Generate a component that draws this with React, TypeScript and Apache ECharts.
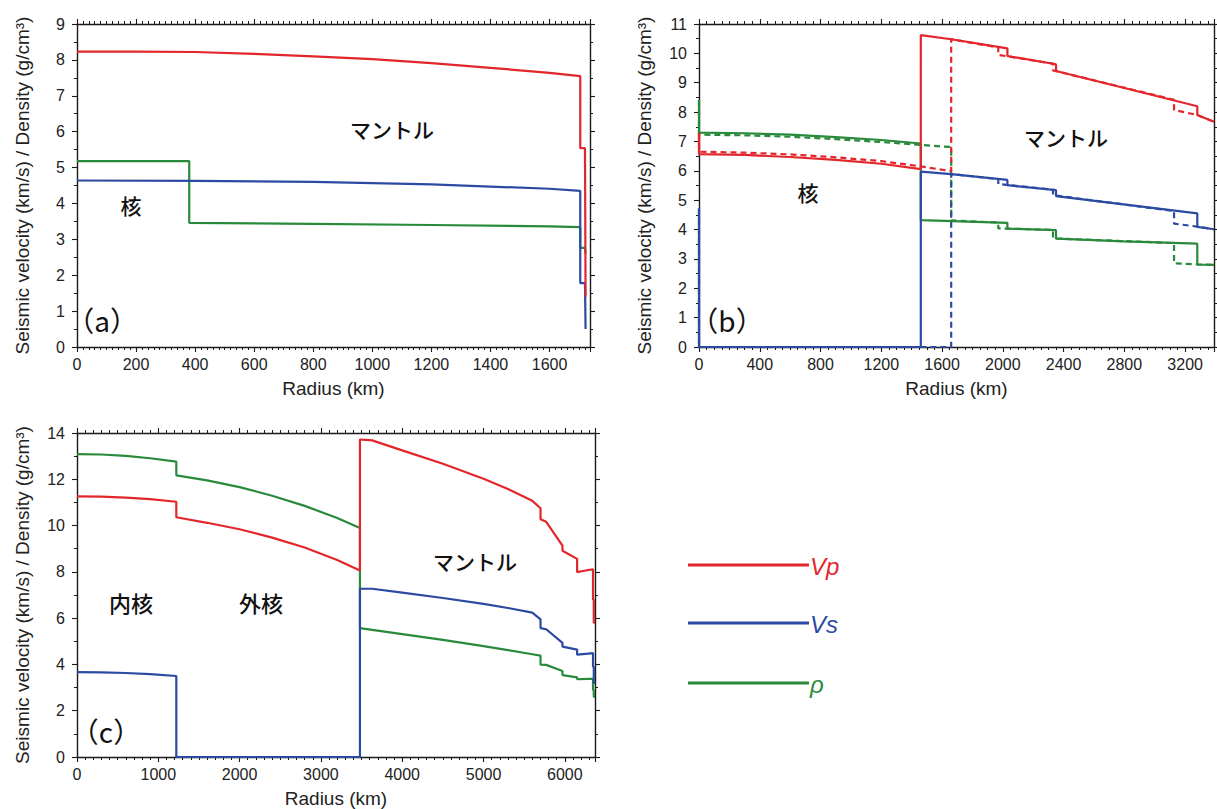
import { useEffect, useRef } from "react";
import * as echarts from "echarts";

const RED = "#e3262c";
const BLUE = "#2c4aa2";
const GREEN = "#2a8a3c";
const FONT = "'Liberation Sans', Arial, sans-serif";
const JFONT = "'Noto Sans CJK JP', sans-serif";

// ---------- Panel (a) ----------
const aVpR = [0, 200, 400, 600, 800, 1000, 1200, 1400, 1600, 1704, 1704, 1720, 1722];
const aVp = [8.23, 8.23, 8.22, 8.17, 8.1, 8.02, 7.91, 7.78, 7.64, 7.55, 5.54, 5.54, 1.4];
const aVsR = [0, 400, 800, 1200, 1600, 1704, 1704, 1720, 1722];
const aVs = [4.64, 4.63, 4.6, 4.53, 4.41, 4.35, 1.78, 1.78, 0.5];
const aRhoR = [0, 380, 380, 800, 1200, 1600, 1704, 1704, 1720, 1722];
const aRho = [5.18, 5.18, 3.46, 3.43, 3.4, 3.36, 3.34, 2.76, 2.76, 2.6];

// ---------- Panel (b) solid ----------
const bVpR = [0, 0, 300, 600, 900, 1200, 1460, 1460, 1660, 2030, 2030, 2350, 2350, 2800, 3280, 3280, 3390];
const bVp = [7.28, 6.57, 6.54, 6.47, 6.37, 6.24, 6.06, 10.62, 10.48, 10.17, 9.91, 9.63, 9.4, 8.82, 8.2, 7.9, 7.67];
const bVsR = [0, 0, 1460, 1460, 1660, 2030, 2030, 2350, 2350, 3280, 3280, 3390];
const bVs = [4.72, 0, 0, 5.97, 5.89, 5.69, 5.51, 5.34, 5.14, 4.55, 4.09, 4.01];
const bRhoR = [0, 0, 300, 600, 900, 1200, 1460, 1460, 2030, 2030, 2350, 2350, 2800, 3280, 3280, 3390];
const bRho = [8.41, 7.3, 7.28, 7.23, 7.15, 7.05, 6.93, 4.32, 4.23, 4.03, 3.98, 3.69, 3.6, 3.52, 2.81, 2.8];

// ---------- Panel (b) dashed ----------
const bVpDR = [0, 0, 300, 600, 900, 1200, 1460, 1660, 1660, 1970, 1970, 2330, 2330, 3127, 3127, 3280, 3390];
const bVpD = [7.28, 6.65, 6.62, 6.56, 6.46, 6.33, 6.15, 5.99, 10.48, 10.2, 9.95, 9.65, 9.42, 8.42, 8.07, 7.9, 7.67];
const bVsDR = [0, 0, 1660, 1660, 1970, 1970, 2330, 2330, 3127, 3127, 3280, 3390];
const bVsD = [4.72, 0, 0, 5.89, 5.72, 5.55, 5.36, 5.17, 4.63, 4.2, 4.1, 4.01];
const bRhoDR = [0, 0, 300, 600, 900, 1200, 1460, 1660, 1660, 1970, 1970, 2330, 2330, 3127, 3127, 3280, 3390];
const bRhoD = [8.41, 7.23, 7.21, 7.16, 7.08, 6.98, 6.88, 6.81, 4.31, 4.24, 4.04, 3.99, 3.7, 3.54, 2.85, 2.81, 2.8];

// ---------- Panel (c) ----------
const cVpR = [0, 300, 600, 900, 1221.5, 1221.5, 1600, 2000, 2400, 2800, 3200, 3480, 3480, 3630, 4000, 4500, 5000, 5300, 5600, 5701, 5701, 5771, 5971, 5971, 6151, 6151, 6291, 6346.6, 6346.6, 6356, 6356, 6371];
const cVp = [11.26, 11.25, 11.21, 11.14, 11.03, 10.36, 10.12, 9.84, 9.48, 9.05, 8.51, 8.06, 13.72, 13.68, 13.25, 12.67, 12.02, 11.58, 11.07, 10.75, 10.27, 10.16, 9.13, 8.91, 8.56, 7.99, 8.08, 8.11, 6.8, 6.8, 5.8, 5.8];
const cVsR = [0, 300, 600, 900, 1221.5, 1221.5, 3480, 3480, 3630, 4000, 4500, 5000, 5300, 5600, 5701, 5701, 5771, 5971, 5971, 6151, 6151, 6291, 6346.6, 6346.6, 6356, 6356, 6371];
const cVs = [3.67, 3.66, 3.63, 3.58, 3.5, 0, 0, 7.27, 7.27, 7.1, 6.87, 6.62, 6.44, 6.24, 5.95, 5.57, 5.52, 4.93, 4.77, 4.64, 4.42, 4.47, 4.49, 3.9, 3.9, 3.2, 3.2];
const cRhoR = [0, 300, 600, 900, 1221.5, 1221.5, 1600, 2000, 2400, 2800, 3200, 3480, 3480, 4000, 4500, 5000, 5300, 5600, 5701, 5701, 5771, 5971, 5971, 6151, 6151, 6291, 6346.6, 6346.6, 6356, 6356, 6371];
const cRho = [13.09, 13.07, 13.01, 12.91, 12.76, 12.17, 11.95, 11.66, 11.29, 10.85, 10.33, 9.9, 5.57, 5.31, 5.06, 4.79, 4.62, 4.44, 4.38, 3.99, 3.98, 3.72, 3.54, 3.44, 3.36, 3.38, 3.38, 2.9, 2.9, 2.6, 2.6];

// ---------- Axes ----------
const xMax = [1737, 3390, 6371];
const xInterval = [200, 400, 1000];
const xMinor = [10, 8, 10];
const yMax = [9, 11, 14];
const yInterval = [1, 1, 2];
const yMinor = [2, 2, 2];

const legendNames = ["Vp", "Vs", "ρ"];
const legendColors = [RED, BLUE, GREEN];

function pairs(r: number[], v: number[]) {
  return r.map((x, i) => [x, v[i]]);
}

export default function App() {
  const ref = useRef<HTMLDivElement>(null);

  useEffect(() => {
    if (!ref.current) return;
    const chart = echarts.init(ref.current, undefined, { renderer: "svg" });

    const grids = [
      { left: 77, top: 24, width: 513, height: 323 },
      { left: 699, top: 24, width: 515, height: 323 },
      { left: 77, top: 433, width: 518, height: 324 },
    ];

    const lineCol = "#1a1a1a";
    const xAxes: any[] = [];
    const yAxes: any[] = [];
    grids.forEach((_, g) => {
      const common = {
        type: "value",
        gridIndex: g,
        axisLine: { show: true, onZero: false, lineStyle: { color: lineCol, width: 1.4 } },
        axisTick: { show: true, length: 5, lineStyle: { color: lineCol, width: 1.1 } },
        splitLine: { show: false },
        minorSplitLine: { show: false },
      };
      const xc = {
        ...common,
        min: 0,
        max: xMax[g],
        interval: xInterval[g],
        minorTick: { show: true, splitNumber: xMinor[g], length: 3, lineStyle: { color: lineCol } },
      };
      const yc = {
        ...common,
        min: 0,
        max: yMax[g],
        interval: yInterval[g],
        minorTick: { show: true, splitNumber: yMinor[g], length: 3, lineStyle: { color: lineCol } },
      };
      xAxes.push({
        ...xc,
        position: "bottom",
        axisLabel: {
          color: "#222",
          fontSize: 16,
          fontFamily: FONT,
          margin: 9,
          formatter: (v: number) => (v % xInterval[g] === 0 ? String(v) : ""),
        },
        name: "Radius (km)",
        nameLocation: "middle",
        nameGap: 32,
        nameTextStyle: { fontSize: 19, color: "#222", fontFamily: FONT },
      });
      xAxes.push({ ...xc, position: "top", axisLabel: { show: false } });
      yAxes.push({
        ...yc,
        position: "left",
        axisLabel: { color: "#222", fontSize: 16, fontFamily: FONT, margin: 12 },
        name: "Seismic velocity (km/s) / Density (g/cm³)",
        nameLocation: "middle",
        nameRotate: 90,
        nameGap: 45,
        nameTextStyle: { fontSize: 19, color: "#222", fontFamily: FONT },
      });
      yAxes.push({ ...yc, position: "right", axisLabel: { show: false } });
    });

    const mk = (g: number, r: number[], v: number[], color: string, dashed = false, name = "") => ({
      type: "line",
      name,
      xAxisIndex: g * 2,
      yAxisIndex: g * 2,
      data: pairs(r, v),
      showSymbol: false,
      symbol: "none",
      clip: true,
      z: dashed ? 3 : 4,
      lineStyle: { color, width: 2.2, type: dashed ? [6, 4] : "solid" },
    });

    const series = [
      mk(0, aRhoR, aRho, GREEN),
      mk(0, aVsR, aVs, BLUE),
      mk(0, aVpR, aVp, RED),
      mk(1, bRhoDR, bRhoD, GREEN, true),
      mk(1, bVsDR, bVsD, BLUE, true),
      mk(1, bVpDR, bVpD, RED, true),
      mk(1, bRhoR, bRho, GREEN),
      mk(1, bVsR, bVs, BLUE),
      mk(1, bVpR, bVp, RED),
      mk(2, cRhoR, cRho, GREEN),
      mk(2, cVsR, cVs, BLUE),
      mk(2, cVpR, cVp, RED),
    ];

    const jText = (x: number, y: number, text: string, size = 21, weight: any = 500) => ({
      type: "text",
      x,
      y,
      style: {
        text,
        fontSize: size,
        fontWeight: weight,
        fontFamily: JFONT,
        fill: "#111",
        textAlign: "center",
        textVerticalAlign: "middle",
        align: "center",
        verticalAlign: "middle",
      },
    });

    const graphic: any[] = [
      jText(131, 205, "核"),
      jText(392, 129, "マントル"),
      jText(808, 192, "核"),
      jText(1066, 137, "マントル"),
      jText(131, 602, "内核", 22),
      jText(261, 602, "外核", 22),
      jText(475, 561, "マントル"),
      jText(102, 320, "（a）", 28, "normal"),
      jText(727, 320, "（b）", 28, "normal"),
      jText(106, 731, "（c）", 28, "normal"),
    ];
    const legendY = [565, 623, 683];
    legendNames.forEach((n, i) => {
      graphic.push({
        type: "line",
        shape: { x1: 688, y1: legendY[i], x2: 809, y2: legendY[i] },
        style: { stroke: legendColors[i], lineWidth: 3.2 },
      });
      graphic.push({
        type: "text",
        x: 810,
        y: legendY[i] + 1,
        style: {
          text: n,
          fontSize: 24,
          fontStyle: "italic",
          fontFamily: FONT,
          fill: legendColors[i],
          textAlign: "left",
          textVerticalAlign: "middle",
          align: "left",
          verticalAlign: "middle",
        },
      });
    });

    chart.setOption({
      animation: false,
      backgroundColor: "#ffffff",
      grid: grids,
      xAxis: xAxes,
      yAxis: yAxes,
      series,
      graphic,
    });

    return () => chart.dispose();
  }, []);

  return (
    <div
      ref={ref}
      style={{ position: "absolute", left: 0, top: 0, width: 1217, height: 809 }}
    />
  );
}
